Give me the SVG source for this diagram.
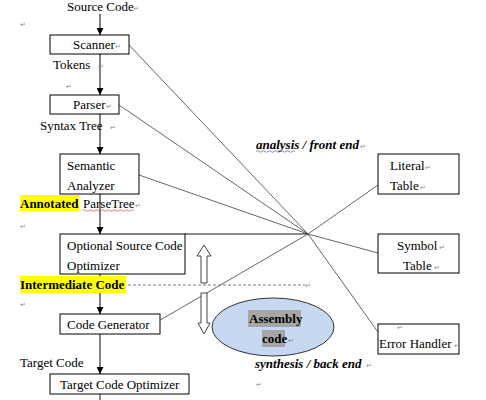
<svg xmlns="http://www.w3.org/2000/svg" width="486" height="400" viewBox="0 0 486 400">
<defs>
<style>
.t{font-family:"Liberation Serif","Times New Roman",serif;font-size:13px;fill:#000}
.b{font-weight:bold}
.bi{font-weight:bold;font-style:italic}
.pm{font-family:"DejaVu Sans",sans-serif;font-size:7px;fill:#888}
.box{fill:#fff;stroke:#000;stroke-width:1}
.ln{stroke:#555;stroke-width:0.9;fill:none}
.ar{stroke:#000;stroke-width:1;fill:none;marker-end:url(#ah)}
</style>
<marker id="ah" viewBox="0 0 10 10" refX="10" refY="5" markerWidth="7" markerHeight="7" markerUnits="userSpaceOnUse" orient="auto"><path d="M0,0 L10,5 L0,10 z" fill="#000"/></marker>
</defs>
<rect width="486" height="400" fill="#fff"/>
<g id="connectors">
<line class="ar" x1="100" y1="14" x2="100" y2="35"/>
<line class="ar" x1="100" y1="54" x2="100" y2="95"/>
<line class="ar" x1="100" y1="114" x2="100" y2="154"/>
<line class="ar" x1="100" y1="194" x2="100" y2="234"/>
<line class="ar" x1="100" y1="274" x2="100" y2="314"/>
<line class="ar" x1="100" y1="334" x2="100" y2="374"/>
<line class="ln" x1="100" y1="394" x2="100" y2="400" style="stroke:#000"/>
<line class="ln" x1="129" y1="45" x2="308" y2="234"/>
<line class="ln" x1="119" y1="105" x2="308" y2="234"/>
<line class="ln" x1="139" y1="175" x2="308" y2="234"/>
<line class="ln" x1="185" y1="234" x2="308" y2="234" style="stroke:#000"/>
<line class="ln" x1="150" y1="326" x2="308" y2="234"/>
<line class="ln" x1="308" y1="234" x2="378" y2="185"/>
<line class="ln" x1="308" y1="234" x2="378" y2="253"/>
<line class="ln" x1="308" y1="234" x2="378" y2="332"/>
<line x1="128" y1="285" x2="305" y2="285" stroke="#777" stroke-width="1" stroke-dasharray="3,2"/>
<path d="M201,283 V256 H197 L204,245 L211,256 H207 V283 Z" fill="#fff" stroke="#444" stroke-width="1"/>
<path d="M201,293 V323 H198 L204,334 L210,323 H207 V293 Z" fill="#fff" stroke="#444" stroke-width="1"/>
</g>
<text class="t" x="67" y="11">Source Code</text><text class="pm" x="133" y="11">↵</text>
<text class="pm" x="20" y="27">↵</text>
<g id="scanner"><rect class="box" x="50" y="35" width="79" height="19"/><text class="t" x="73" y="49">Scanner</text><text class="pm" x="115" y="49">↵</text></g>
<text class="t" x="53" y="69">Tokens</text><text class="pm" x="98" y="69">↵</text>
<text class="pm" x="66" y="89">↵</text>
<g id="parser"><rect class="box" x="50" y="95" width="69" height="19"/><text class="t" x="73" y="109">Parser</text><text class="pm" x="106" y="109">↵</text></g>
<text class="t" x="40" y="130">Syntax Tree</text><text class="pm" x="110" y="130">↵</text>
<g id="semantic"><rect class="box" x="60" y="154" width="79" height="40"/><text class="t" x="67" y="170">Semantic</text><text class="t" x="67" y="190">Analyzer</text></g>
<rect x="20" y="195" width="59" height="16" fill="#ffff00"/>
<text class="t b" x="20" y="208">Annotated</text><text class="t" x="83" y="208">ParseTree</text><text class="pm" x="135" y="208">↵</text>
<path d="M83,210.5 q1.5,-1.5 3,0 t3,0 t3,0 t3,0 t3,0 t3,0 t3,0 t3,0 t3,0 t3,0 t3,0 t3,0 t3,0 t3,0 t3,0 t3,0 t3,0" fill="none" stroke="#d22" stroke-width="0.6"/>
<text class="pm" x="20" y="229">↵</text>
<g id="optimizer"><rect class="box" x="60" y="234" width="125" height="40"/><text class="t" x="67" y="250">Optional Source Code</text><text class="t" x="67" y="270">Optimizer</text></g>
<rect x="20" y="276" width="106" height="17" fill="#ffff00"/>
<text class="t b" x="20" y="289">Intermediate Code</text><text class="pm" x="305" y="288">↵</text>
<text class="pm" x="20" y="307">↵</text>
<g id="codegen"><rect class="box" x="60" y="314" width="100" height="20"/><text class="t" x="67" y="329">Code Generator</text></g>
<text class="t" x="20" y="367">Target Code</text>
<g id="targetopt"><rect class="box" x="50" y="374" width="139" height="20"/><text class="t" x="60" y="389">Target Code Optimizer</text></g>
<text class="t bi" x="256" y="149">analysis / front end</text><text class="pm" x="360" y="149">↵</text>
<path d="M256,151.5 q1.5,-1.5 3,0 t3,0 t3,0 t3,0 t3,0 t3,0 t3,0 t3,0 t3,0 t3,0 t3,0 t3,0 t3,0" fill="none" stroke="#33c" stroke-width="0.6"/>
<g id="literal"><rect class="box" x="378" y="154" width="81" height="40"/><text class="t" x="390" y="170">Literal</text><text class="pm" x="425" y="170">↵</text><text class="t" x="390" y="190">Table</text><text class="pm" x="420" y="190">↵</text></g>
<g id="symbol"><rect class="box" x="378" y="234" width="81" height="39"/><text class="t" x="397" y="250">Symbol</text><text class="pm" x="439" y="250">↵</text><text class="t" x="403" y="270">Table</text><text class="pm" x="434" y="270">↵</text></g>
<g id="error"><rect class="box" x="378" y="324" width="81" height="30"/><text class="pm" x="397" y="330">↵</text><text class="t" x="379" y="348">Error Handler</text><text class="pm" x="454" y="348">↵</text></g>
<g id="assembly">
<ellipse cx="273" cy="327" rx="61" ry="29" fill="#c6d9f0" stroke="#333" stroke-width="1"/>
<rect x="248" y="310" width="53" height="17" fill="#a6a6a6"/>
<rect x="262" y="330" width="23" height="17" fill="#a6a6a6"/>
<text class="t b" x="249" y="323">Assembly</text>
<text class="t b" x="262" y="343">code</text><text class="pm" x="288" y="343">↵</text>
</g>
<text class="t bi" x="255" y="368">synthesis / back end</text><text class="pm" x="366" y="368">↵</text>
<text class="pm" x="256" y="387">↵</text>
</svg>
